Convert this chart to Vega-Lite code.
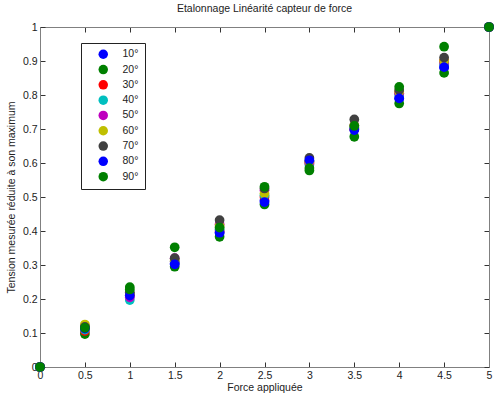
{
  "$schema": "https://vega.github.io/schema/vega-lite/v6.json",
  "width": 449,
  "height": 340,
  "autosize": {"type": "none"},
  "padding": {"left": 40, "top": 27, "right": 7, "bottom": 29},
  "background": "white",
  "config": {
    "font": "Liberation Sans",
    "view": {"stroke": null},
    "axis": {"grid": false, "domain": true, "domainColor": "#808080", "domainWidth": 1, "tickColor": "#333", "tickSize": -5, "labelFontSize": 10.5, "labelColor": "#222", "titleFontSize": 10.5, "titleFontWeight": "normal", "titleColor": "#222", "zindex": 0}
  },
  "title": {"text": "Etalonnage Linéarité capteur de force", "fontSize": 10.5, "fontWeight": "normal", "color": "#222", "offset": 8, "font": "Liberation Sans"},
  "data": {"values": [
    {"f":0,"a":"10°","v":0},{"f":0.5,"a":"10°","v":0.12},{"f":1,"a":"10°","v":0.215},{"f":1.5,"a":"10°","v":0.305},{"f":2,"a":"10°","v":0.395},{"f":2.5,"a":"10°","v":0.49},{"f":3,"a":"10°","v":0.605},{"f":3.5,"a":"10°","v":0.7},{"f":4,"a":"10°","v":0.79},{"f":4.5,"a":"10°","v":0.88},{"f":5,"a":"10°","v":1},
    {"f":0,"a":"20°","v":0},{"f":0.5,"a":"20°","v":0.097},{"f":1,"a":"20°","v":0.235},{"f":1.5,"a":"20°","v":0.295},{"f":2,"a":"20°","v":0.383},{"f":2.5,"a":"20°","v":0.478},{"f":3,"a":"20°","v":0.578},{"f":3.5,"a":"20°","v":0.677},{"f":4,"a":"20°","v":0.775},{"f":4.5,"a":"20°","v":0.865},{"f":5,"a":"20°","v":1},
    {"f":0,"a":"30°","v":0},{"f":0.5,"a":"30°","v":0.106},{"f":1,"a":"30°","v":0.21},{"f":1.5,"a":"30°","v":0.31},{"f":2,"a":"30°","v":0.4},{"f":2.5,"a":"30°","v":0.5},{"f":3,"a":"30°","v":0.6},{"f":3.5,"a":"30°","v":0.7},{"f":4,"a":"30°","v":0.805},{"f":4.5,"a":"30°","v":0.9},{"f":5,"a":"30°","v":1},
    {"f":0,"a":"40°","v":0},{"f":0.5,"a":"40°","v":0.11},{"f":1,"a":"40°","v":0.197},{"f":1.5,"a":"40°","v":0.31},{"f":2,"a":"40°","v":0.405},{"f":2.5,"a":"40°","v":0.505},{"f":3,"a":"40°","v":0.595},{"f":3.5,"a":"40°","v":0.705},{"f":4,"a":"40°","v":0.8},{"f":4.5,"a":"40°","v":0.89},{"f":5,"a":"40°","v":1},
    {"f":0,"a":"50°","v":0},{"f":0.5,"a":"50°","v":0.115},{"f":1,"a":"50°","v":0.205},{"f":1.5,"a":"50°","v":0.32},{"f":2,"a":"50°","v":0.42},{"f":2.5,"a":"50°","v":0.52},{"f":3,"a":"50°","v":0.6},{"f":3.5,"a":"50°","v":0.71},{"f":4,"a":"50°","v":0.805},{"f":4.5,"a":"50°","v":0.895},{"f":5,"a":"50°","v":1},
    {"f":0,"a":"60°","v":0},{"f":0.5,"a":"60°","v":0.125},{"f":1,"a":"60°","v":0.215},{"f":1.5,"a":"60°","v":0.315},{"f":2,"a":"60°","v":0.415},{"f":2.5,"a":"60°","v":0.51},{"f":3,"a":"60°","v":0.605},{"f":3.5,"a":"60°","v":0.71},{"f":4,"a":"60°","v":0.81},{"f":4.5,"a":"60°","v":0.9},{"f":5,"a":"60°","v":1},
    {"f":0,"a":"70°","v":0},{"f":0.5,"a":"70°","v":0.118},{"f":1,"a":"70°","v":0.22},{"f":1.5,"a":"70°","v":0.32},{"f":2,"a":"70°","v":0.432},{"f":2.5,"a":"70°","v":0.525},{"f":3,"a":"70°","v":0.615},{"f":3.5,"a":"70°","v":0.728},{"f":4,"a":"70°","v":0.815},{"f":4.5,"a":"70°","v":0.91},{"f":5,"a":"70°","v":1},
    {"f":0,"a":"80°","v":0},{"f":0.5,"a":"80°","v":0.113},{"f":1,"a":"80°","v":0.21},{"f":1.5,"a":"80°","v":0.302},{"f":2,"a":"80°","v":0.395},{"f":2.5,"a":"80°","v":0.485},{"f":3,"a":"80°","v":0.608},{"f":3.5,"a":"80°","v":0.697},{"f":4,"a":"80°","v":0.79},{"f":4.5,"a":"80°","v":0.882},{"f":5,"a":"80°","v":1},
    {"f":0,"a":"90°","v":0},{"f":0.5,"a":"90°","v":0.115},{"f":1,"a":"90°","v":0.228},{"f":1.5,"a":"90°","v":0.352},{"f":2,"a":"90°","v":0.41},{"f":2.5,"a":"90°","v":0.53},{"f":3,"a":"90°","v":0.585},{"f":3.5,"a":"90°","v":0.709},{"f":4,"a":"90°","v":0.824},{"f":4.5,"a":"90°","v":0.942},{"f":5,"a":"90°","v":1}
  ]},
  "layer": [
    {
      "mark": {"type": "point", "size": 0, "opacity": 0, "strokeWidth": 0, "filled": true},
      "encoding": {
        "x": {"field": "f", "type": "quantitative", "scale": {"domain": [0, 5], "nice": false, "zero": false}, "axis": {"orient": "top", "values": [0,0.5,1,1.5,2,2.5,3,3.5,4,4.5,5], "labels": false, "title": null}},
        "y": {"field": "v", "type": "quantitative", "scale": {"domain": [0, 1], "nice": false, "zero": false}, "axis": {"orient": "right", "values": [0,0.1,0.2,0.3,0.4,0.5,0.6,0.7,0.8,0.9,1], "labels": false, "title": null}}
      }
    },
    {
      "mark": {"type": "point", "filled": true, "size": 95, "opacity": 1, "clip": false},
      "encoding": {
        "x": {"field": "f", "type": "quantitative",
              "axis": {"orient": "bottom", "values": [0,0.5,1,1.5,2,2.5,3,3.5,4,4.5,5], "format": "~g", "labelPadding": 8, "labelFlush": false, "title": "Force appliquée", "titlePadding": 2}},
        "y": {"field": "v", "type": "quantitative",
              "axis": {"orient": "left", "values": [0,0.1,0.2,0.3,0.4,0.5,0.6,0.7,0.8,0.9,1], "format": "~g", "labelPadding": 8, "labelFlush": false, "title": "Tension mesurée réduite à son maximum", "titlePadding": 6}},
        "color": {"field": "a", "type": "nominal",
                  "scale": {"domain": ["10°","20°","30°","40°","50°","60°","70°","80°","90°"],
                            "range": ["#0000ff","#008000","#ff0000","#00bfbf","#bf00bf","#bfbf00","#404040","#0000ff","#008000"]},
                  "legend": {"orient": "none", "legendX": 41, "legendY": 16, "title": null, "strokeColor": "#222", "fillColor": "white", "padding": 6, "symbolOffset": 11, "symbolSize": 90, "symbolType": "circle", "labelFontSize": 10.5, "labelColor": "#222", "labelOffset": 14, "rowPadding": 4.3, "symbolStrokeWidth": 0}}
      }
    }
  ],
  "resolve": {"axis": {"x": "independent", "y": "independent"}}
}
